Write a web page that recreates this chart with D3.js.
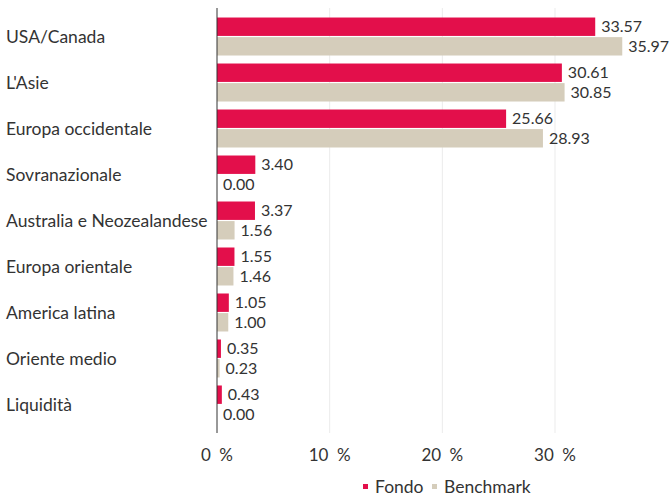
<!DOCTYPE html>
<html>
<head>
<meta charset="utf-8">
<script src="https://cdn.jsdelivr.net/npm/d3@7"></script>
<style>
  body { margin: 0; background: #fff; }
  text { font-family: Lato, "Open Sans", sans-serif; font-weight: 400; fill: #333; }
</style>
</head>
<body>
<div id="chart"></div>
<script>
// data
const categories = ['USA/Canada', "L'Asie", 'Europa occidentale', 'Sovranazionale',
  'Australia e Neozealandese', 'Europa orientale', 'America latina', 'Oriente medio', 'Liquidità'];
const series = ['Fondo', 'Benchmark'];
const fondo = [33.57, 30.61, 25.66, 3.40, 3.37, 1.55, 1.05, 0.35, 0.43];
const benchmark = [35.97, 30.85, 28.93, 0.00, 1.56, 1.46, 1.00, 0.23, 0.00];
const xTicks = [0, 10, 20, 30];
const colors = ['#e30f4b', '#d5cdbb'];

const width = 670, height = 499;
const plotLeft = 217, plotTop = 8, plotBottom = 433;

const svg = d3.select('#chart').append('svg')
  .attr('width', width).attr('height', height);

const x = d3.scaleLinear().domain([0, 30]).range([plotLeft, plotLeft + 338]);
const y = d3.scaleBand().domain(categories).range([plotTop, plotBottom])
  .paddingInner(0.174).paddingOuter(0.207);
const ySub = d3.scaleBand().domain(series).range([0, y.bandwidth()]).paddingInner(0.06);

// gridlines
svg.append('g').selectAll('line')
  .data(xTicks.slice(1))
  .join('line')
  .attr('x1', d => x(d)).attr('x2', d => x(d))
  .attr('y1', plotTop).attr('y2', plotBottom)
  .attr('stroke', '#ebebeb').attr('stroke-width', 1);

// x tick labels
svg.append('g').selectAll('text')
  .data(xTicks)
  .join('text')
  .attr('x', d => x(d)).attr('y', 461)
  .attr('text-anchor', 'middle')
  .style('font-size', '17px')
  .text(d => d + '\u2002%');

const rows = categories.map((c, i) => ({ cat: c, vals: [fondo[i], benchmark[i]] }));

const g = svg.append('g').selectAll('g')
  .data(rows)
  .join('g')
  .attr('transform', d => `translate(0, ${y(d.cat)})`);

g.selectAll('rect')
  .data(d => d.vals.map((v, j) => ({ s: series[j], v, j })))
  .join('rect')
  .attr('x', x(0))
  .attr('y', d => ySub(d.s))
  .attr('width', d => x(d.v) - x(0))
  .attr('height', ySub.bandwidth())
  .attr('fill', d => colors[d.j]);

g.selectAll('text.val')
  .data(d => d.vals.map((v, j) => ({ s: series[j], v, j })))
  .join('text')
  .attr('class', 'val')
  .attr('x', d => x(d.v) + 6)
  .attr('y', d => ySub(d.s) + ySub.bandwidth() / 2)
  .attr('dy', '0.36em')
  .style('font-size', '16px')
  .text(d => d.v.toFixed(2));

// category labels
svg.append('g').selectAll('text')
  .data(categories)
  .join('text')
  .attr('x', 6)
  .attr('y', d => y(d) + y.bandwidth() / 2)
  .attr('dy', '0.36em')
  .style('font-size', '17.5px')
  .text(d => d);

// axis line
svg.append('line')
  .attr('x1', x(0)).attr('x2', x(0))
  .attr('y1', plotTop).attr('y2', plotBottom)
  .attr('stroke', '#333').attr('stroke-width', 1);

// legend
const legend = svg.append('g').attr('transform', 'translate(363, 487)');
const legendX = [0, 69];
const li = legend.selectAll('g')
  .data(series)
  .join('g')
  .attr('transform', (d, i) => `translate(${legendX[i]}, 0)`);
li.append('rect')
  .attr('x', 0).attr('y', -3).attr('width', 5).attr('height', 5)
  .attr('fill', (d, i) => colors[i]);
li.append('text')
  .attr('x', 12).attr('dy', '0.36em')
  .style('font-size', '17.5px')
  .text(d => d);
</script>
</body>
</html>
